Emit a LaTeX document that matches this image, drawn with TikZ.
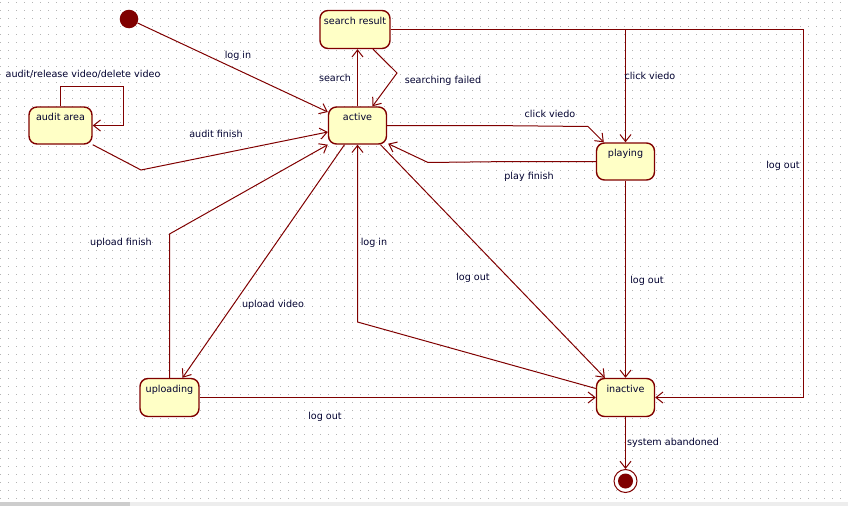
\documentclass[tikz,border=0pt]{standalone}
\usepackage{fontspec}
\setmainfont{DejaVu Sans}
\usetikzlibrary{arrows.meta,calc}
\definecolor{maroonc}{HTML}{800000}
\definecolor{stfill}{HTML}{FFFFC6}
\definecolor{txtc}{HTML}{000030}
\definecolor{dotc}{HTML}{B4B4B4}
\definecolor{bardark}{HTML}{CDCDCD}
\definecolor{barlight}{HTML}{EDEDED}
\begin{document}
\begin{tikzpicture}[x=1pt,y=-1pt,
  state/.style={draw=maroonc, fill=stfill, line width=1.4pt, rounded corners=8pt,
    inner xsep=0pt, inner ysep=0pt, text height=13.5pt, text depth=23.5pt,
    font=\fontsize{9.6}{11}\selectfont, text=txtc},
  lbl/.style={inner sep=0pt, font=\fontsize{9.6}{11}\selectfont, text=txtc},
  tr/.style={draw=maroonc, line width=1pt,
    -{Straight Barb[length=7pt,width=11pt,line width=1pt]}}]
\useasboundingbox (0,0) rectangle (848,506);
\fill[white] (0,0) rectangle (848,506);
\foreach \yy in {2,10,...,498}
  \draw[dotc, line width=1pt, dash pattern=on 1pt off 7pt] (0,\yy+0.5) -- (848,\yy+0.5);
\fill[bardark] (0,502) rectangle (130,506);
\fill[barlight] (130,502) rectangle (848,506);

% states
\node[state, minimum width=70pt, text depth=24.5pt] (sr) at (355,29.5) {search result};
\node[state, minimum width=58pt] (active) at (357.5,125.5) {active};
\node[state, minimum width=63pt] (audit) at (60.5,125.5) {audit area};
\node[state, minimum width=58pt] (playing) at (625.5,161.5) {playing};
\node[state, minimum width=59pt, text depth=24.5pt] (uploading) at (169.5,397.5) {uploading};
\node[state, minimum width=58pt, text depth=24.5pt] (inactive) at (625.5,397.5) {inactive};
\node[circle, fill=maroonc, minimum size=18.6pt, inner sep=0pt] (init) at (129,19) {};
\node[circle, draw=maroonc, line width=1pt, fill=white, minimum size=23pt, inner sep=0pt] (final) at (625.5,481) {};
\node[circle, fill=maroonc, minimum size=15pt, inner sep=0pt] (finalin) at (final.center) {};

% helper coordinates
\coordinate (a1) at (141,170);
\coordinate (s1) at (397,73);
\coordinate (cR) at (803.5,29.5);
\coordinate (p1) at (488,125.5);
\coordinate (p2) at (588,126.5);
\coordinate (q1) at (512,161.5);
\coordinate (q2) at (428,162.5);
\coordinate (r1) at (357.5,322);
\coordinate (u1) at (169.5,234);

% transitions
\draw[tr] (init) -- ($(active.west)+(0,-13.5)$);
\draw[tr] (audit.north) -- ++(0,-19.5) -| ($(audit.east)+(30.5,0)$) -- (audit.east);
\draw[tr] (audit.south east) -- (a1) -- ($(active.west)+(0,6.5)$);
\draw[tr] (active.north) -- (active.north |- sr.south);
\draw[tr] ($(sr.south)+(18,0)$) -- (s1) -- ($(active.north)+(15,0)$);
\draw[tr] (sr.east) -| (playing.north);
\draw[tr] (sr.east) -- (cR) |- (inactive.east);
\draw[tr] (active.east) -- (p1) -- (p2) -- ($(playing.north west)+(8,0)$);
\draw[tr] (playing.west) -- (q1) -- (q2) -- ($(active.south east)+(1,-1)$);
\draw[tr] (playing.south) -- (inactive.north);
\draw[tr] ($(active.south)+(23,0)$) -- ($(inactive.north west)+(9,0)$);
\draw[tr] ($(inactive.west)+(0,-9)$) -- (r1) -- (active.south);
\draw[tr] ($(active.south)+(-13,0)$) -- ($(uploading.north)+(13,0)$);
\draw[tr] (uploading.north) -- (u1) -- (active.south west);
\draw[tr] (uploading.east) -- (inactive.west);
\draw[tr] (inactive.south) -- (final);

% labels
\node[lbl] (l1) at (238,56) {log in};
\node[lbl] (l2) at (83,74) {audit/release video/delete video};
\node[lbl] (l3) at (216,134) {audit finish};
\node[lbl] (l4) at (335,78) {search};
\node[lbl] (l5) at (443,81) {searching failed};
\node[lbl] (l6) at (650,76) {click viedo};
\node[lbl] (l7) at (783,166) {log out};
\node[lbl] (l8) at (550,114) {click viedo};
\node[lbl] (l9) at (529,177) {play finish};
\node[lbl] (l10) at (121,243) {upload finish};
\node[lbl] (l11) at (374,243) {log in};
\node[lbl] (l12) at (473,278) {log out};
\node[lbl] (l13) at (647,281) {log out};
\node[lbl] (l14) at (273,305) {upload video};
\node[lbl] (l15) at (325,417) {log out};
\node[lbl] (l16) at (673,443) {system abandoned};
\end{tikzpicture}
\end{document}
